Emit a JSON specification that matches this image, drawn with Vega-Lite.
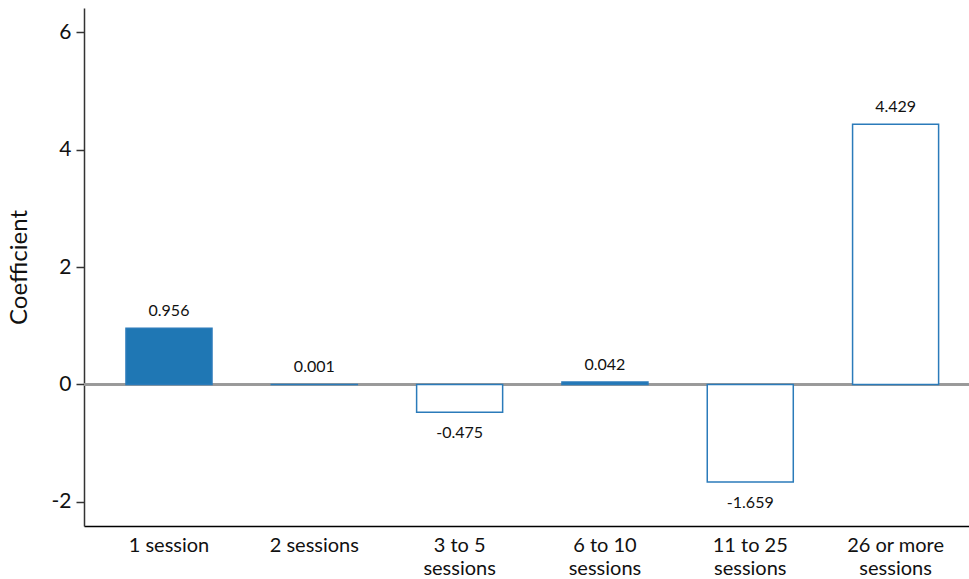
{
  "$schema": "https://vega.github.io/schema/vega-lite/v6.json",
  "width": 885,
  "height": 518,
  "autosize": {"type": "none"},
  "padding": {"left": 84, "top": 8, "right": 0, "bottom": 53},
  "background": "white",
  "config": {
    "view": {"stroke": null},
    "font": "Lato",
    "axis": {"labelFont": "Lato", "titleFont": "Lato", "labelColor": "#111", "titleColor": "#111", "grid": false}
  },
  "data": {
    "values": [
      {"group": "1 session", "value": 0.956, "sig": "filled"},
      {"group": "2 sessions", "value": 0.001, "sig": "filled"},
      {"group": "3 to 5|sessions", "value": -0.475, "sig": "open"},
      {"group": "6 to 10|sessions", "value": 0.042, "sig": "filled"},
      {"group": "11 to 25|sessions", "value": -1.659, "sig": "open"},
      {"group": "26 or more|sessions", "value": 4.429, "sig": "open"}
    ]
  },
  "encoding": {
    "x": {
      "field": "group",
      "type": "nominal",
      "sort": null,
      "scale": {"paddingInner": 0.408, "paddingOuter": 0.249, "align": 0.58},
      "axis": {
        "title": null,
        "labelAngle": 0,
        "labelFontSize": 20,
        "labelPadding": 9,
        "ticks": false,
        "domainColor": "#000",
        "domainWidth": 1.5,
        "labelLineHeight": 23,
        "labelExpr": "split(datum.value, '|')"
      }
    }
  },
  "layer": [
    {
      "mark": {"type": "rule", "color": "#999999", "strokeWidth": 2},
      "encoding": {"x": null, "y": {"datum": 0, "type": "quantitative"}}
    },
    {
      "mark": {"type": "bar", "strokeWidth": 1.5, "stroke": "#2b7bba"},
      "encoding": {
        "y": {
          "field": "value",
          "type": "quantitative",
          "scale": {"domain": [-2.41, 6.41], "nice": false, "zero": false},
          "axis": {
            "title": "Coefficient",
            "titleFontSize": 24,
            "titleFontWeight": "normal",
            "titlePadding": 20,
            "values": [-2, 0, 2, 4, 6],
            "labelExpr": "replace(format(datum.value, 'd'), '\u2212', '-')",
            "labelFontSize": 21,
            "labelPadding": 5,
            "tickSize": 8,
            "tickColor": "#333",
            "tickWidth": 1.5,
            "domainColor": "#333",
            "domainWidth": 1.5
          }
        },
        "y2": {"datum": 0},
        "fill": {
          "field": "sig",
          "type": "nominal",
          "scale": {"domain": ["filled", "open"], "range": ["#1f77b4", "#ffffff"]},
          "legend": null
        }
      }
    },
    {
      "transform": [
        {"filter": "datum.value >= 0"},
        {"calculate": "replace(format(datum.value, '.3f'), '\u2212', '-')", "as": "lbl"}
      ],
      "mark": {"type": "text", "baseline": "bottom", "dy": -9, "fontSize": 16, "color": "#111"},
      "encoding": {
        "y": {"field": "value", "type": "quantitative"},
        "text": {"field": "lbl", "type": "nominal"}
      }
    },
    {
      "transform": [
        {"filter": "datum.value < 0"},
        {"calculate": "replace(format(datum.value, '.3f'), '\u2212', '-')", "as": "lbl"}
      ],
      "mark": {"type": "text", "baseline": "top", "dy": 13, "fontSize": 16, "color": "#111"},
      "encoding": {
        "y": {"field": "value", "type": "quantitative"},
        "text": {"field": "lbl", "type": "nominal"}
      }
    }
  ]
}
